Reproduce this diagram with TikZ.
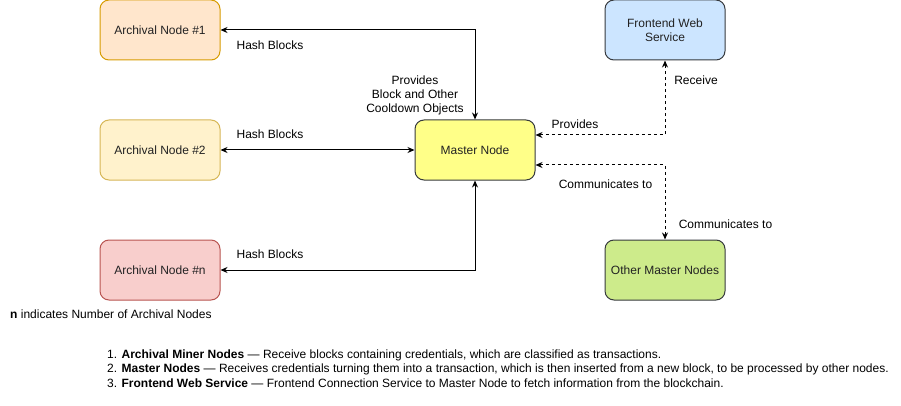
\documentclass[tikz,border=0pt]{standalone}
\usepackage{fontspec}
\setmainfont{Liberation Sans}
\usetikzlibrary{arrows.meta}

\definecolor{archonefill}{HTML}{FFE6CC}
\definecolor{archoneline}{HTML}{D79B00}
\definecolor{archtwofill}{HTML}{FFF2CC}
\definecolor{archtwoline}{HTML}{D6B656}
\definecolor{archnfill}{HTML}{F8CECC}
\definecolor{archnline}{HTML}{B85450}
\definecolor{masterfill}{HTML}{FFFF88}
\definecolor{frontfill}{HTML}{CCE5FF}
\definecolor{otherfill}{HTML}{CDEB8B}
\definecolor{darkline}{HTML}{36393D}
\definecolor{textgray}{HTML}{222222}

\tikzset{
	box/.style={draw=darkline, rounded corners=9pt, minimum width=120pt, minimum height=60pt,
		align=center, line width=1pt, text=textgray, font=\fontsize{12}{14}\selectfont},
	link/.style={{Stealth[length=7pt,width=6pt]}-{Stealth[length=7pt,width=6pt]}, line width=1pt},
	dashlink/.style={link, dash pattern=on 3pt off 3pt},
	lbl/.style={inner sep=0pt, align=center, font=\fontsize{12}{14}\selectfont},
	listline/.style={inner sep=0pt, anchor=west, font=\fontsize{12}{14}\selectfont}
}

\begin{document}
\begin{tikzpicture}[x=1pt,y=-1pt]
	\useasboundingbox (0,0) rectangle (901,406);
	% nodes
	\node[box, fill=archonefill, draw=archoneline] (arch1) at (160,30) {Archival Node \#1};
	\node[box, fill=archtwofill, draw=archtwoline] (arch2) at (160,150) {Archival Node \#2};
	\node[box, fill=archnfill, draw=archnline] (archn) at (160,270) {Archival Node \#n};
	\node[box, fill=masterfill] (master) at (475,150) {Master Node};
	\node[box, fill=frontfill] (front) at (665,30) {Frontend Web\\Service};
	\node[box, fill=otherfill] (other) at (665,270) {Other Master Nodes};
	% connectors
	\draw[link] (arch1.east) -| (master.north);
	\draw[link] (arch2.east) -- (master.west);
	\draw[link] (archn.east) -| (master.south);
	\draw[dashlink] ([yshift=15pt]master.east) -| (front.south);
	\draw[dashlink] ([yshift=-15pt]master.east) -| (other.north);
	% labels
	\node[lbl] (hash1) at (270,45) {Hash Blocks};
	\node[lbl] (hash2) at (270,134) {Hash Blocks};
	\node[lbl] (hashn) at (270,254) {Hash Blocks};
	\node[lbl] (provblock) at (415,95) {Provides\\Block and Other\\Cooldown Objects};
	\node[lbl] (provides) at (575,124) {Provides};
	\node[lbl] (receive) at (696,80) {Receive};
	\node[lbl] (comm1) at (605.5,184.5) {Communicates to};
	\node[lbl] (comm2) at (725.5,224.5) {Communicates to};
	\node[lbl, anchor=west] (note) at (10,314) {\textbf{n} indicates Number of Archival Nodes};
	% list
	\node[listline] (item1) at (107,355) {1. \textbf{Archival Miner Nodes} --- Receive blocks containing credentials, which are classified as transactions.};
	\node[listline] (item2) at (107,369) {2. \textbf{Master Nodes} --- Receives credentials turning them into a transaction, which is then inserted from a new block, to be processed by other nodes.};
	\node[listline] (item3) at (107,383) {3. \textbf{Frontend Web Service} --- Frontend Connection Service to Master Node to fetch information from the blockchain.};
\end{tikzpicture}
\end{document}
